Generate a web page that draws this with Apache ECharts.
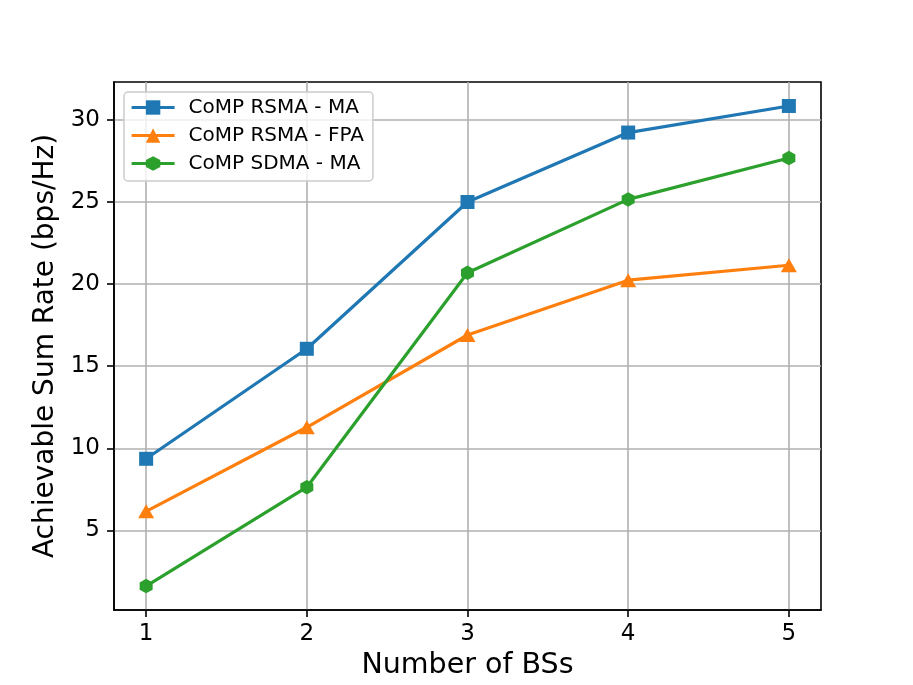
<!DOCTYPE html>
<html>
<head>
<meta charset="utf-8">
<script src="https://cdn.jsdelivr.net/npm/echarts@6/dist/echarts.min.js"></script>
<style>
  html, body { margin: 0; padding: 0; background: #fff; }
  #container { width: 913px; height: 685px; }
</style>
</head>
<body>
<div id="container"></div>
<script>
// number of base stations
var bsCount = [1, 2, 3, 4, 5];
var yTicks = [5, 10, 15, 20, 25, 30];
var seriesNames = ['CoMP RSMA - MA', 'CoMP RSMA - FPA', 'CoMP SDMA - MA'];
var rsmaMa = [9.36, 16.06, 25.0, 29.23, 30.85];
var rsmaFpa = [6.16, 11.28, 16.90, 20.24, 21.15];
var sdmaMa = [1.61, 7.63, 20.69, 25.16, 27.68];

var hexagon = 'path://M0,-1 L0.866,-0.5 L0.866,0.5 L0,1 L-0.866,0.5 L-0.866,-0.5 Z';
var font = 'DejaVu Sans';

function pairs(vals) {
    var out = [];
    for (var i = 0; i < bsCount.length; i++) {
        out.push([bsCount[i], vals[i]]);
    }
    return out;
}

var dom = document.getElementById('container');
var myChart = echarts.init(dom);

var option = {
    animation: false,
    backgroundColor: '#fff',
    grid: {
        left: 114,
        right: 92,
        top: 82,
        bottom: 75,
        show: true,
        borderColor: '#000',
        borderWidth: 1.6,
        backgroundColor: 'transparent'
    },
    legend: {
        orient: 'vertical',
        left: 124,
        top: 92,
        padding: [5, 9, 7, 6],
        itemWidth: 43,
        itemHeight: 18,
        itemGap: 7,
        backgroundColor: 'rgba(255,255,255,0.8)',
        borderColor: '#cccccc',
        borderWidth: 1.5,
        borderRadius: 4,
        lineStyle: { width: 3.2 },
        textStyle: {
            fontFamily: font,
            fontSize: 20,
            color: '#000',
            lineHeight: 21,
            padding: [0, 0, 0, 9]
        },
        data: seriesNames
    },
    xAxis: {
        type: 'value',
        min: 0.8,
        max: 5.2,
        name: 'Number of BSs',
        nameLocation: 'middle',
        nameGap: 40,
        nameTextStyle: { fontFamily: font, fontSize: 28.5, color: '#000' },
        axisLine: { show: true, onZero: false, lineStyle: { color: '#000', width: 1.6 } },
        axisTick: {
            show: true, inside: false, length: 7,
            customValues: bsCount,
            lineStyle: { color: '#000', width: 1.6 }
        },
        axisLabel: {
            customValues: bsCount,
            margin: 13,
            fontFamily: font,
            fontSize: 23,
            color: '#000'
        },
        splitLine: { show: true, lineStyle: { color: '#b0b0b0', width: 1.6 } }
    },
    yAxis: {
        type: 'value',
        min: 0.15,
        max: 32.31,
        name: 'Achievable Sum Rate (bps/Hz)',
        nameLocation: 'middle',
        nameGap: 51,
        nameTextStyle: { fontFamily: font, fontSize: 28, color: '#000' },
        axisLine: { show: true, lineStyle: { color: '#000', width: 1.6 } },
        axisTick: {
            show: true, inside: false, length: 7,
            customValues: yTicks,
            lineStyle: { color: '#000', width: 1.6 }
        },
        axisLabel: {
            customValues: yTicks,
            margin: 14,
            fontFamily: font,
            fontSize: 23,
            color: '#000'
        },
        splitLine: { show: true, lineStyle: { color: '#b0b0b0', width: 1.6 } }
    },
    series: [
        {
            name: seriesNames[0],
            type: 'line',
            data: pairs(rsmaMa),
            color: '#1f77b4',
            symbol: 'rect',
            symbolSize: 14,
            lineStyle: { width: 3.2 },
            itemStyle: { color: '#1f77b4', opacity: 1 }
        },
        {
            name: seriesNames[1],
            type: 'line',
            data: pairs(rsmaFpa),
            color: '#ff7f0e',
            symbol: 'triangle',
            symbolSize: [16, 14],
            lineStyle: { width: 3.2 },
            itemStyle: { color: '#ff7f0e', opacity: 1 }
        },
        {
            name: seriesNames[2],
            type: 'line',
            data: pairs(sdmaMa),
            color: '#2ca02c',
            symbol: hexagon,
            symbolSize: [13, 14.5],
            lineStyle: { width: 3.2 },
            itemStyle: { color: '#2ca02c', opacity: 1 }
        }
    ]
};

if (option && typeof option === 'object') {
    myChart.setOption(option, true);
}
</script>
</body>
</html>
